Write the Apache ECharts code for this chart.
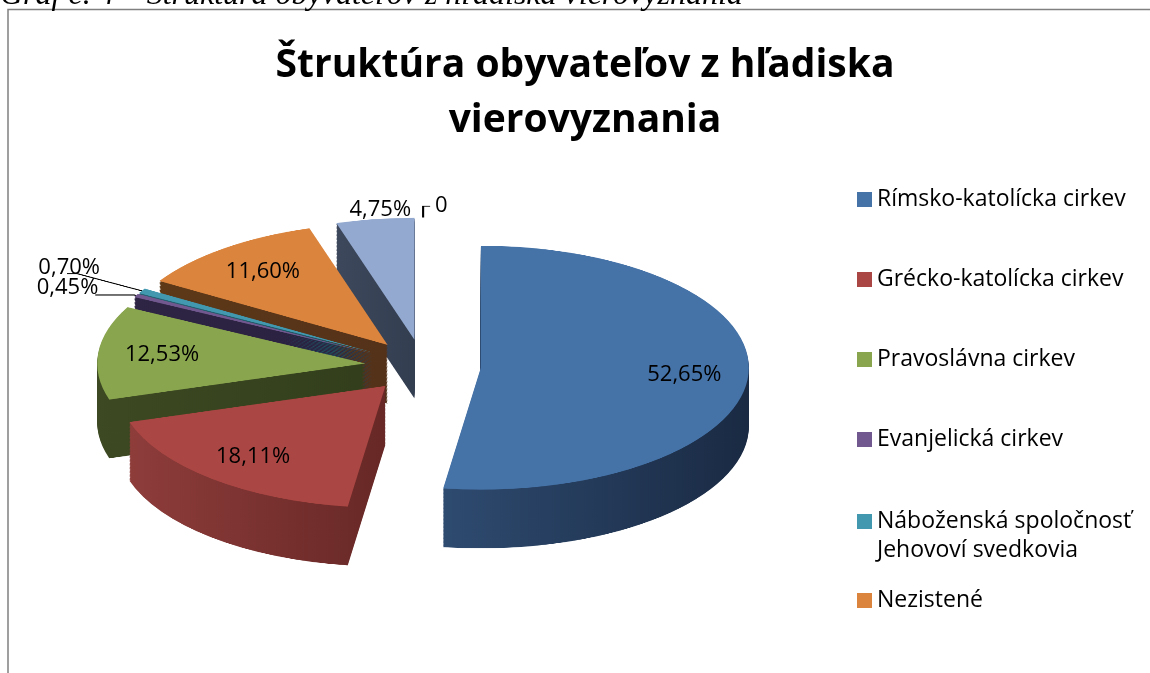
<!DOCTYPE html>
<html>
<head>
<meta charset="utf-8">
<script src="https://cdn.jsdelivr.net/npm/echarts@6/dist/echarts.min.js"></script>
<style>
  html, body { margin: 0; padding: 0; background: #fff; overflow: hidden; width: 1150px; height: 673px; }
  /* the pie layer is squashed vertically to get the tilted 3D look */
  #pie { position: absolute; left: 0; top: 0; width: 1150px; height: 1340px; transform: scaleY(0.455); transform-origin: 0 0; }
  #main { position: absolute; left: 0; top: 0; width: 1150px; height: 673px; }
</style>
</head>
<body>
<div id="pie"></div>
<div id="main"></div>
<script>
// data
const categories = ['Rímsko-katolícka cirkev', 'Grécko-katolícka cirkev', 'Pravoslávna cirkev', 'Evanjelická cirkev',
  'Náboženská spoločnosť\nJehovoví svedkovia', 'Nezistené', 'Bez vyznania', 'Iné'];
const values = [52.65, 18.11, 12.53, 0.45, 0.70, 11.60, 4.75, 0];
const labelPositions = ['inside', 'inside', 'inside', 'outside', 'outside', 'inside', 'outside', 'outside'];

// colours: top face and side (left/right shade)
const topColors = ['#4572A7', '#AA4643', '#89A54E', '#71588F', '#4198AF', '#DB843D', '#93A9CF', '#D19392'];
const sideShades = [['#2e4b70', '#1a2a43'], ['#8e3d3b', '#672826'], ['#3c4922', '#333f1c'], ['#2e2443', '#2a2040'],
  ['#256272', '#1d4f5c'], ['#5e3918', '#54321a'], ['#3d485c', '#343e51'], ['#7a5251', '#6a4645']];

const tilt = 0.455;                // same as the css scaleY
const cx = 423, cy = 804;          // pie centre in the unsquashed layer (366 / tilt)
const radius = 268, explode = 58;
const depth = 128, step = 3;
const startAngle = 89.98;          // keeps the zero slice label on the right side
const font = 'Open Sans';

// label line settings for the small / outside slices
const lineOpts = [
  {}, {}, {},
  { length: 2, length2: 39 },
  { length: 75, length2: 10 },
  {},
  { show: false, length: 20, length2: 0 },
  { length: 25, length2: 7 }
];
// the 4,75% label sits above its slice (no leader line)
const labelShiftX = [0, 0, 0, 0, 0, 0, 44, 0];

function pct(v) {
  return v === 0 ? '0' : v.toFixed(2).replace('.', ',') + '%';
}

// vertical direction of each slice's explosion (pie starts at 12 o'clock, clockwise)
const total = values.reduce((a, b) => a + b, 0);
let acc = 0;
const dirY = values.map(v => {
  const mid = (acc + v / 2) / total * 2 * Math.PI;
  acc += v;
  return -Math.cos(mid);
});

function pieData(colorOf, lineStyle) {
  return values.map((v, i) => ({
    name: categories[i],
    value: v,
    selected: true,
    itemStyle: { color: colorOf(i) },
    label: { position: labelPositions[i] },
    labelLine: Object.assign({ lineStyle: lineStyle }, lineOpts[i])
  }));
}

const labelStyle = { show: true, fontFamily: font, fontSize: 22, formatter: p => pct(p.value) };

function layer(dy, colorOf, top) {
  return {
    type: 'pie',
    silent: true,
    animation: false,
    center: [cx, cy + dy],
    radius: [0, radius],
    startAngle: startAngle,
    clockwise: true,
    selectedMode: 'multiple',
    selectedOffset: explode,
    avoidLabelOverlap: true,
    itemStyle: { borderWidth: 0 },
    emphasis: { disabled: true },
    label: top ? Object.assign({ color: 'rgba(0,0,0,0)' }, labelStyle) : { show: false },
    labelLine: top ? { show: true, smooth: false } : { show: false },
    data: pieData(colorOf, { color: '#000', width: 2.1 })
  };
}

// 1) pie slices, stacked copies give the depth
const pie = echarts.init(document.getElementById('pie'));
const pieSeries = [];
for (let j = Math.round(depth / step); j >= 1; j--) {
  pieSeries.push(layer(j * step, i => ({
    type: 'linear', x: 0, y: 0, x2: 1, y2: 0,
    colorStops: [{ offset: 0, color: sideShades[i][0] }, { offset: 1, color: sideShades[i][1] }]
  }), false));
}
pieSeries.push(layer(0, i => topColors[i], true));
pie.setOption({ animation: false, series: pieSeries });

// 2) title, legend, frame and the data labels
const legendTops = [183, 263, 343, 423, 473, 584];
const main = echarts.init(document.getElementById('main'));
main.setOption({
  animation: false,
  title: {
    text: 'Štruktúra obyvateľov z hľadiska\nvierovyznania',
    left: 585,
    top: 38,
    padding: 0,
    textAlign: 'center',
    textStyle: { fontFamily: font, fontWeight: 'bold', fontSize: 39, lineHeight: 55, color: '#000' }
  },
  legend: legendTops.map((t, i) => ({
    left: 852,
    top: t,
    itemWidth: 15,
    itemHeight: 15,
    icon: 'rect',
    selectedMode: false,
    // blank first line keeps the square next to the first text line
    formatter: i === 4 ? n => '\n' + n : n => n,
    textStyle: i === 4
      ? { fontFamily: font, fontSize: 23, color: '#000', lineHeight: 29 }
      : { fontFamily: font, fontSize: 23, color: '#000' },
    data: [{ name: categories[i], itemStyle: { color: topColors[i] } }]
  })),
  graphic: [
    {
      type: 'polyline', silent: true, z: -10,
      shape: { points: [[8, 700], [8, 9.5], [1150, 9.5]] },
      style: { fill: null, stroke: '#808080', lineWidth: 1.5 }
    },
    {
      type: 'text', silent: true, x: 0, y: 12,
      style: {
        text: 'Graf č. 4 – Štruktúra obyvateľov z hľadiska vierovyznania',
        fontFamily: 'Liberation Serif', fontStyle: 'italic', fontSize: 32,
        verticalAlign: 'bottom', fill: '#000'
      }
    }
  ],
  series: [{
    type: 'pie',
    silent: true,
    center: [cx, cy],
    radius: [radius * 0.5, radius],
    startAngle: startAngle,
    clockwise: true,
    selectedMode: 'multiple',
    selectedOffset: explode,
    avoidLabelOverlap: true,
    itemStyle: { borderWidth: 0 },
    emphasis: { disabled: true },
    label: Object.assign({ color: '#000' }, labelStyle),
    labelLine: { show: true, smooth: false },
    // move labels onto the squashed pie (labelRect leaves out the explode offset)
    labelLayout: p => {
      const y = p.labelRect.y + p.labelRect.height / 2 + explode * dirY[p.dataIndex];
      return { dx: labelShiftX[p.dataIndex], dy: (tilt - 1) * y };
    },
    data: pieData(() => 'rgba(0,0,0,0)', { opacity: 0 })
  }]
});
</script>
</body>
</html>
